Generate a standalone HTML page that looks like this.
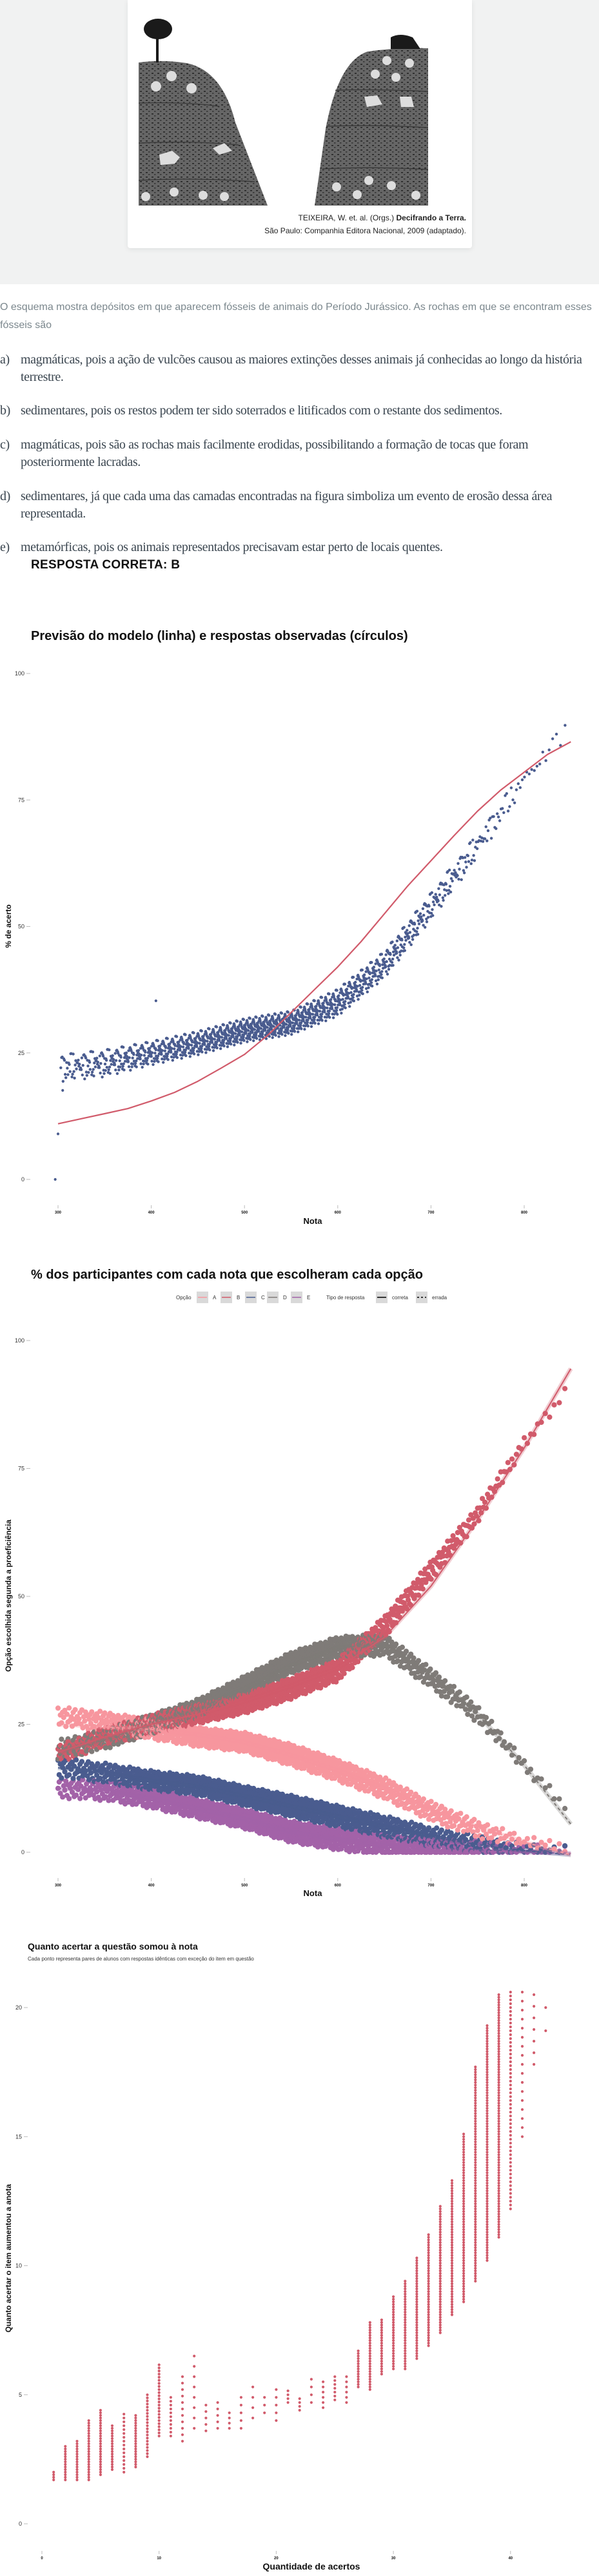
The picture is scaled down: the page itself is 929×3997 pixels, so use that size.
<!DOCTYPE html>
<html><head><meta charset="utf-8">
<style>
html,body{margin:0;padding:0;background:#fff;}
body{width:929px;height:3997px;position:relative;overflow:hidden;font-family:"Liberation Sans",sans-serif;}
.abs{position:absolute;}
#hero{left:0;top:0;width:929px;height:441px;background:#f1f2f2;}
#card{left:198px;top:0;width:534px;height:385px;background:#fff;border-radius:0 0 4px 4px;box-shadow:0 2px 8px rgba(0,0,0,.08);}
.cap{right:206px;font-size:12px;color:#222;white-space:nowrap;}
.para{left:0;font-size:16px;color:#7b878d;white-space:nowrap;}
.opt{font-family:"Liberation Serif",serif;font-size:20px;color:#3b4650;white-space:nowrap;letter-spacing:-0.4px;}
.ol{left:0;} .ot{left:32px;}
#resp{left:48px;top:866px;font-size:19px;font-weight:bold;color:#111;letter-spacing:0.3px;}
#chart{left:0;top:0;}
</style></head>
<body>
<div id="hero" class="abs"></div>
<div id="card" class="abs">
<svg width="534" height="385">
 <defs>
  <pattern id="spk" width="9" height="7" patternUnits="userSpaceOnUse">
   <rect width="9" height="7" fill="#666"/>
   <rect x="1" y="1" width="3" height="1.5" fill="#222"/><rect x="5" y="4" width="2.5" height="1.5" fill="#333"/>
  </pattern>
 </defs>
 <g transform="translate(-198,0)">
  <path d="M215,319 L215,97 Q250,92 290,98 Q345,110 365,190 L415,319 Z" fill="url(#spk)"/>
  <path d="M488,319 L505,200 Q525,95 570,80 Q620,73 664,75 L664,319 Z" fill="url(#spk)"/>
  <g stroke="#333" stroke-width="1.2" fill="none">
   <path d="M215,160 Q290,158 340,165"/><path d="M215,222 Q300,218 370,225"/><path d="M215,280 Q300,275 395,282"/>
   <path d="M520,140 Q590,138 664,142"/><path d="M506,196 Q580,193 664,198"/><path d="M500,262 Q580,258 664,263"/>
  </g>
  <g fill="#ddd"><circle cx="242" cy="134" r="8"/><circle cx="266" cy="118" r="8"/><circle cx="297" cy="137" r="8"/>
   <circle cx="600" cy="94" r="7"/><circle cx="635" cy="98" r="7"/><circle cx="582" cy="115" r="7"/><circle cx="614" cy="120" r="7"/>
   <circle cx="226" cy="305" r="7"/><circle cx="270" cy="298" r="7"/><circle cx="315" cy="303" r="7"/><circle cx="348" cy="305" r="7"/>
   <circle cx="522" cy="290" r="7"/><circle cx="554" cy="302" r="7"/><circle cx="572" cy="280" r="7"/><circle cx="607" cy="288" r="7"/><circle cx="645" cy="303" r="7"/>
   <path d="M247,240 l20,-6 l12,10 l-8,10 l-22,2z"/><path d="M330,230 l18,-8 l12,12 l-20,6z"/>
   <path d="M565,150 l20,-2 l8,14 l-24,4z"/><path d="M620,150 l18,0 l4,16 l-20,0z"/></g>
  <ellipse cx="245" cy="45" rx="22" ry="16" fill="#1a1a1a"/><rect x="242" y="55" width="4" height="42" fill="#1a1a1a"/>
  <path d="M606,76 L606,58 Q620,50 640,58 L652,76 Z" fill="#1a1a1a"/>
 </g>
</svg>
</div>
<div class="abs cap" style="top:331px">TEIXEIRA, W. et. al. (Orgs.) <b>Decifrando a Terra.</b></div>
<div class="abs cap" style="top:351px">São Paulo: Companhia Editora Nacional, 2009 (adaptado).</div>

<div class="abs para" style="top:468px">O esquema mostra depósitos em que aparecem fósseis de animais do Período Jurássico. As rochas em que se encontram esses</div>
<div class="abs para" style="top:496px">fósseis são</div>

<div class="abs opt ol" style="top:547px">a)</div>
<div class="abs opt ot" style="top:547px">magmáticas, pois a ação de vulcões causou as maiores extinções desses animais já conhecidas ao longo da história</div>
<div class="abs opt ot" style="top:574px">terrestre.</div>
<div class="abs opt ol" style="top:626px">b)</div>
<div class="abs opt ot" style="top:626px">sedimentares, pois os restos podem ter sido soterrados e litificados com o restante dos sedimentos.</div>
<div class="abs opt ol" style="top:679px">c)</div>
<div class="abs opt ot" style="top:679px">magmáticas, pois são as rochas mais facilmente erodidas, possibilitando a formação de tocas que foram</div>
<div class="abs opt ot" style="top:706px">posteriormente lacradas.</div>
<div class="abs opt ol" style="top:759px">d)</div>
<div class="abs opt ot" style="top:759px">sedimentares, já que cada uma das camadas encontradas na figura simboliza um evento de erosão dessa área</div>
<div class="abs opt ot" style="top:786px">representada.</div>
<div class="abs opt ol" style="top:838px">e)</div>
<div class="abs opt ot" style="top:838px">metamórficas, pois os animais representados precisavam estar perto de locais quentes.</div>
<div id="resp" class="abs">RESPOSTA CORRETA: B</div>

<svg id="chart" class="abs" width="929" height="3997" font-family="Liberation Sans, sans-serif"></svg>

<script>
// ---------- Chart 1 data ----------
const c1Nodes = [300,350,400,450,500,550,600,650,700,750,800,850];
const c1Center = [22,23,25,27,29.5,31,35,42.5,54,66,79,90];
const c1Spread = [3.2,3.2,2.8,2.8,2.8,2.8,3.2,3.2,3.2,3,2.5,2];
const c1Density = [1.2,2,3,4,5,5,4,3,2,1,0.4,0.15];
const c1OutX = [297,300,305,405];
const c1OutY = [0,9,17.6,35.3];
const modelX = [300,325,350,375,400,425,450,475,500,525,550,575,600,625,650,675,700,725,750,775,800,825,850];
const modelY = [11,12,13,14,15.5,17.2,19.4,22,24.7,28.5,33,37.5,42,47,52.5,58,63,68,72.8,77,80.5,84,86.5];
const c1YTicks = [0,25,50,75,100];
const c1XTicks = [300,400,500,600,700,800];
// ---------- Chart 2 data ----------
const c2Nodes = [300,350,400,450,500,550,600,650,700,750,800,850];
const c2Series = ["E","C","A","D","B"];
const c2Colors = {A:"#f7969e",B:"#d15b6b",C:"#4a5c8f",D:"#7f7b78",E:"#a362a8"};
const c2A = [26.5,25.5,24,22.5,21.5,19,16,12.5,8,4.5,2,1];
const c2B = [19,22.5,25,27,29,32,35.5,44,55,66,80,91];
const c2C = [16.5,15.5,14,13,11,9,7,5,3,1.5,0.5,0.3];
const c2D = [20,22,25,28,32.5,37,40,40.5,34,27,17,8];
const c2E = [12.5,12,10.5,8.5,6.5,4,2.5,1.3,0.8,0.5,0.3,0.3];
const c2Spread = [2,2,2,2,2,2.2,2.2,2.2,2,1.8,1.2,1];
const c2Density = [0.8,1.2,1.6,2,2.2,2.2,2,1.6,1.2,0.8,0.3,0.12];
const fitA = [25,24.5,24,23,21.5,19,16,12.5,8.5,5,2,-0.5];
const fitB = [19.5,22.5,25,27,29.5,32.5,36,42,52,65,79,94.5];
const fitC = [16.5,15.5,14,12.8,11,9,7,5,3,1.5,0.3,-0.5];
const fitD = [19.5,22,25,28,32,36.5,40,40.5,35,27,17,5.5];
const fitE = [12.5,12,10.5,8.5,6.5,4,2.5,1.3,0.6,0.2,0,-0.2];
const c2YTicks = [0,25,50,75,100];
const c2XTicks = [300,400,500,600,700,800];
// ---------- Chart 3 data ----------
const acertos = [1,2,3,4,5,6,7,8,9,10,11,12,13,14,15,16,17,18,19,20,21,22,23,24,25,26,27,28,29,30,31,32,33,34,35,36,37,38,39,40,41,42,43];
const ganhoMin = [1.7,1.7,1.7,1.7,1.9,2.1,2.0,2.2,2.6,3.4,3.4,3.2,3.7,3.6,3.7,3.7,3.7,4.1,4.3,4.0,4.7,4.4,4.7,4.5,4.8,4.7,5.3,5.2,5.8,6.0,6.0,6.4,6.9,7.4,8.1,8.6,9.4,10.2,11.1,12.2,15.0,17.8,19.1];
const ganhoMax = [2.0,3.0,3.2,4.0,4.4,3.8,4.3,4.2,5.1,6.2,5.0,5.8,6.6,4.8,4.9,4.3,5.0,5.4,4.9,5.2,5.2,4.9,5.6,5.6,5.8,5.8,6.7,7.8,7.9,8.8,9.4,10.3,11.2,12.3,13.3,15.1,17.7,19.3,20.5,20.6,20.6,20.5,20.1];
const ganhoStep = [0.1,0.1,0.1,0.1,0.1,0.1,0.15,0.1,0.12,0.12,0.15,0.25,0.4,0.25,0.25,0.2,0.3,0.4,0.3,0.3,0.15,0.15,0.3,0.2,0.15,0.2,0.1,0.1,0.1,0.1,0.1,0.1,0.1,0.1,0.1,0.1,0.1,0.1,0.1,0.15,0.35,0.45,0.9];
const c3YTicks = [0,5,10,15,20];
const c3XTicks = [0,10,20,30,40];

const NS="http://www.w3.org/2000/svg";
const svg=document.getElementById('chart');
const JIT=[0.0,0.62,-0.48,0.91,-0.83,0.27,-0.15,0.74,-0.66,0.39,-0.95,0.08,0.55,-0.31,0.83,-0.72,0.18,-0.57,0.47,-0.02,0.69,-0.88,0.33,-0.41,0.97,-0.23,0.12,-0.79,0.58,-0.09,0.86,-0.52,0.21,-0.37];
function interp(xs,ys,x){if(x<=xs[0])return ys[0];for(let i=1;i<xs.length;i++){if(x<=xs[i]){const t=(x-xs[i-1])/(xs[i]-xs[i-1]);return ys[i-1]+t*(ys[i]-ys[i-1]);}}return ys[ys.length-1];}
function mk(tag,attrs,parent){const e=document.createElementNS(NS,tag);for(const k in attrs)e.setAttribute(k,attrs[k]);(parent||svg).appendChild(e);return e;}
function txt(x,y,s,attrs,parent){const e=mk('text',Object.assign({x:x,y:y},attrs),parent);e.textContent=s;return e;}

const c1x=v=>90+(v-300)*1.446, c1y=v=>1830-(v)*7.85;
const c2x=v=>90+(v-300)*1.446, c2y=v=>2874-(v)*7.94;
const c3x=v=>65+v*18.17, c3y=v=>3916-v*40.05;

function yAxis(ticks,sy,lx,name){
  const g=mk('g',{});
  
  
  ticks.forEach(t=>{
    const y=sy(t);
    txt(lx,y+3,String(t),{'font-size':9,'text-anchor':'end',fill:'#333'},g);
    mk('line',{x1:lx+3,x2:lx+9,y1:y,y2:y,stroke:'#bbb','stroke-width':1},g);
  });
}
function xAxis(ticks,sx,ty,name){
  const g=mk('g',{});
  
  
  ticks.forEach(t=>{
    const x=sx(t);
    mk('line',{x1:x,x2:x,y1:ty-11,y2:ty-6,stroke:'#bbb','stroke-width':1},g);
    txt(x,ty+2,String(t),{'font-size':6,'font-weight':'bold','text-anchor':'middle',fill:'#111'},g);
  });
}

// ============ Chart 1 ============
let t=txt(48,993,'Previsão do modelo (linha) e respostas observadas (círculos)',{'font-size':20,'font-weight':'bold',fill:'#111'});


yAxis(c1YTicks,c1y,38,'chart1-y-axis');
xAxis(c1XTicks,c1x,1881,'chart1-x-axis');
t=txt(485,1899,'Nota',{'font-size':13,'font-weight':'bold','text-anchor':'middle',fill:'#111'});


t=txt(0,0,'% de acerto',{'font-size':12,'font-weight':'bold','text-anchor':'middle',fill:'#111',transform:'translate(17,1437) rotate(-90)'});


{
  const g=mk('g',{fill:'#4a5c8f'});
  
  
  let n=0,x=303;
  while(x<=848){
    const c=interp(c1Nodes,c1Center,x), s=interp(c1Nodes,c1Spread,x), d=interp(c1Nodes,c1Density,x);
    const v=c+JIT[(n*7)%JIT.length]*s*(0.6+0.4*Math.abs(JIT[n%JIT.length]));
    const p=mk('circle',{cx:c1x(x).toFixed(1),cy:c1y(v).toFixed(1),r:2.2},g);
    
    n++; x+=1/d;
  }
  c1OutX.forEach((ox,i)=>{
    const p=mk('circle',{cx:c1x(ox),cy:c1y(c1OutY[i]),r:2.1},g);
    
  });
  let dstr=modelX.map((mx,i)=>(i?'L':'M')+c1x(mx).toFixed(1)+','+c1y(modelY[i]).toFixed(1)).join(' ');
  const l=mk('path',{d:dstr,fill:'none',stroke:'#d15b6b','stroke-width':2.2,'stroke-linejoin':'round'});
  
  
}

// ============ Chart 2 ============
t=txt(48,1984,'% dos participantes com cada nota que escolheram cada opção',{'font-size':20,'font-weight':'bold',fill:'#111'});


{
  const lg=mk('g',{'font-size':8,fill:'#333'});
  
  
  txt(273,2016,'Opção',{},lg);
  const items=[['A',305],['B',342],['C',380],['D',414],['E',451]];
  items.forEach(([k,x])=>{
    const r=mk('rect',{x:x,y:2004,width:18,height:18,fill:'#d9d9d9'},lg);
    
    mk('line',{x1:x+2,x2:x+16,y1:2013,y2:2013,stroke:c2Colors[k],'stroke-width':1.5},lg);
    txt(x+25,2016,k,{},lg);
  });
  txt(506,2016,'Tipo de resposta',{},lg);
  mk('rect',{x:583,y:2004,width:18,height:18,fill:'#d9d9d9'},lg);
  mk('line',{x1:585,x2:599,y1:2013,y2:2013,stroke:'#000','stroke-width':1.5},lg);
  txt(608,2016,'correta',{},lg);
  mk('rect',{x:645,y:2004,width:18,height:18,fill:'#d9d9d9'},lg);
  mk('line',{x1:647,x2:661,y1:2013,y2:2013,stroke:'#000','stroke-width':1.5,'stroke-dasharray':'3,3'},lg);
  txt(670,2016,'errada',{},lg);
}
yAxis(c2YTicks,c2y,38,'chart2-y-axis');
xAxis(c2XTicks,c2x,2925,'chart2-x-axis');
t=txt(485,2942,'Nota',{'font-size':13,'font-weight':'bold','text-anchor':'middle',fill:'#111'});


t=txt(0,0,'Opção escolhida segunda a proeficiência',{'font-size':12,'font-weight':'bold','text-anchor':'middle',fill:'#111',transform:'translate(17,2476) rotate(-90)'});


{
  const data={A:c2A,B:c2B,C:c2C,D:c2D,E:c2E};
  const fits={A:fitA,B:fitB,C:fitC,D:fitD,E:fitE};
  const g=mk('g',{});
  
  
  let n=0,x=300;
  while(x<=850){
    const s=interp(c2Nodes,c2Spread,x), d=interp(c2Nodes,c2Density,x);
    c2Series.forEach((k,j)=>{
      const v=Math.max(0,interp(c2Nodes,data[k],x)+JIT[(n+j*7)%JIT.length]*s);
      const p=mk('circle',{cx:c2x(x).toFixed(1),cy:c2y(v).toFixed(1),r:4.1,fill:c2Colors[k]},g);
      
    });
    n++; x+=1/d;
  }
  c2Series.forEach(k=>{
    const dstr=c2Nodes.map((nx,i)=>(i?'L':'M')+c2x(nx).toFixed(1)+','+c2y(fits[k][i]).toFixed(1)).join(' ');
    const rib=mk('path',{d:dstr,fill:'none',stroke:c2Colors[k],'stroke-width':7,opacity:0.3});
    
    const l=mk('path',{d:dstr,fill:'none',stroke:c2Colors[k],'stroke-width':2,'stroke-dasharray':k==='B'?'none':'5,4'});
    
    
  });
}

// ============ Chart 3 ============
t=txt(43,3025,'Quanto acertar a questão somou à nota',{'font-size':14,'font-weight':'bold',fill:'#111'});


t=txt(43,3042,'Cada ponto representa pares de alunos com respostas idênticas com exceção do item em questão',{'font-size':8,fill:'#333'});


yAxis(c3YTicks,c3y,34,'chart3-y-axis');
xAxis(c3XTicks,c3x,3969,'chart3-x-axis');
t=txt(483,3987,'Quantidade de acertos',{'font-size':14,'font-weight':'bold','text-anchor':'middle',fill:'#111'});


t=txt(0,0,'Quanto acertar o item aumentou a anota',{'font-size':12,'font-weight':'bold','text-anchor':'middle',fill:'#111',transform:'translate(17,3504) rotate(-90)'});


{
  const g=mk('g',{fill:'#d15b6b'});
  
  
  acertos.forEach((a,i)=>{
    for(let v=ganhoMin[i]; v<=ganhoMax[i]+1e-6; v+=ganhoStep[i]){
      const p=mk('circle',{cx:c3x(a).toFixed(1),cy:c3y(v).toFixed(1),r:2.1},g);
      
    }
  });
}
</script>
</body></html>
